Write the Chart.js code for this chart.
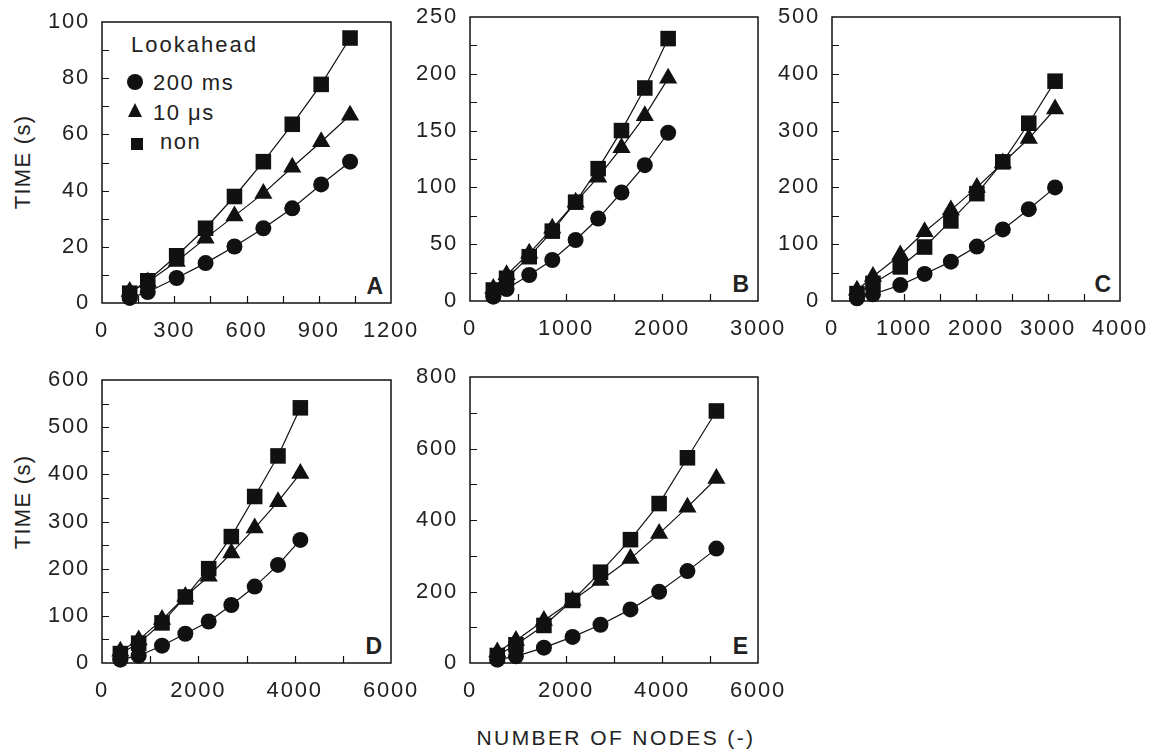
<!DOCTYPE html>
<html><head><meta charset="utf-8">
<script src="https://cdn.jsdelivr.net/npm/chart.js@4"></script>
<style>
body{margin:0;width:1150px;height:751px;background:#fff;position:relative;overflow:hidden;font-family:"Liberation Sans",Arial,sans-serif;color:#222}
.cv{position:absolute}
.txt{position:absolute;white-space:nowrap;font-size:22px;letter-spacing:1.5px;line-height:1}
.lab{position:absolute;font-weight:bold;font-size:23px;line-height:1;white-space:nowrap}
.mk{position:absolute}
</style></head><body>

<div class="txt" style="left:23px;top:162px;transform:translate(-50%,-50%) rotate(-90deg);letter-spacing:1.3px">TIME (s)</div>
<div class="txt" style="left:23px;top:502px;transform:translate(-50%,-50%) rotate(-90deg);letter-spacing:1.3px">TIME (s)</div>
<div class="txt" style="left:616px;top:727px;transform:translateX(-50%);font-size:21px;letter-spacing:2.4px">NUMBER OF NODES (-)</div>

<div class="txt" style="left:131px;top:34px;letter-spacing:2px">Lookahead</div>
<div class="mk" style="left:127px;top:74px;width:16px;height:16px;border-radius:50%;background:#111"></div>
<div class="txt" style="left:153px;top:72px">200 ms</div>
<div class="mk" style="left:128px;top:103px;width:0;height:0;border-left:7.5px solid transparent;border-right:7.5px solid transparent;border-bottom:14px solid #111"></div>
<div class="txt" style="left:153px;top:102px">10 μs</div>
<div class="mk" style="left:131px;top:138px;width:12px;height:12px;background:#111"></div>
<div class="txt" style="left:160px;top:131px">non</div>

<div class="lab" style="right:767px;top:275px">A</div>
<div class="lab" style="right:401px;top:273px">B</div>
<div class="lab" style="right:39px;top:273px">C</div>
<div class="lab" style="right:768px;top:635px">D</div>
<div class="lab" style="right:402px;top:635px">E</div>

<script>
// ---- data ----
const nodesA = [115, 190, 310, 430, 550, 670, 790, 910, 1030];
const ms200A = [1.8, 3.9, 8.9, 14.2, 20.1, 26.6, 33.7, 42.2, 50.3];
const us10A  = [4.1, 7.5, 14.8, 23, 31, 39, 48.3, 57.4, 66.8];
const nonA   = [3.5, 7.9, 16.8, 26.6, 37.9, 50.3, 63.6, 77.8, 94.3];

const nodesB = [243, 381, 617, 857, 1100, 1335, 1578, 1821, 2064];
const ms200B = [3.8, 10.5, 22.9, 36.1, 53.7, 72.6, 95.5, 119.6, 148.1];
const us10B  = [11, 23, 42, 64, 87, 109, 135, 163, 196];
const nonB   = [9.7, 20, 39, 61.5, 87, 116.5, 150, 187.5, 231];

const nodesC = [347, 569, 948, 1286, 1651, 2012, 2372, 2733, 3098];
const ms200C = [4.7, 11.8, 28, 47.6, 69.3, 95.8, 126, 161.6, 200];
const us10C  = [19, 43, 81, 122, 160, 200, 243, 286, 338];
const nonC   = [13, 31, 60, 95, 141, 189, 245, 313, 387];

const nodesD = [381, 761, 1246, 1730, 2215, 2685, 3170, 3654, 4118];
const ms200D = [7, 15.5, 36.7, 62, 88, 123, 162, 208, 261];
const us10D  = [25, 49, 92, 141, 184, 233, 286, 342, 402];
const nonD   = [20, 42, 85, 140, 200, 268, 353, 439, 541];

const nodesE = [569, 957, 1540, 2137, 2719, 3343, 3940, 4530, 5133];
const ms200E = [9.3, 18.6, 43, 73, 107, 150, 199, 257, 320];
const us10E  = [31, 63, 119, 175, 231, 292, 362, 436, 516];
const nonE   = [21, 51, 105, 175, 254, 345, 446, 574, 705];

// axis limits / tick steps
const axisA = {xMax: 1200, xStep: 300, yMax: 100, yStep: 20};
const axisB = {xMax: 3000, xStep: 1000, yMax: 250, yStep: 50};
const axisC = {xMax: 4000, xStep: 1000, yMax: 500, yStep: 100};
const axisD = {xMax: 6000, xStep: 2000, yMax: 600, yStep: 100};
const axisE = {xMax: 6000, xStep: 2000, yMax: 800, yStep: 200};

const INK = '#111';
const FONT = "'Liberation Sans', Arial, sans-serif";

const frameTicks = {
  id: 'frameTicks',
  beforeDraw(chart) { try { chart.ctx.letterSpacing = '1.8px'; } catch (e) {} },
  beforeDatasetsDraw(chart, args, opts) {
    const {ctx, chartArea: a, scales: {x, y}} = chart;
    ctx.save();
    ctx.strokeStyle = INK;
    ctx.lineWidth = 1.5;
    ctx.strokeRect(a.left, a.top, a.right - a.left, a.bottom - a.top);
    ctx.lineWidth = 1.2;
    ctx.beginPath();
    for (let v = opts.yMinor; v < y.max - 1e-9; v += opts.yMinor) {
      const py = Math.round(y.getPixelForValue(v)) + 0.5;
      ctx.moveTo(a.left, py); ctx.lineTo(a.left + 7, py);
    }
    for (let v = opts.xMinor; v < x.max - 1e-9; v += opts.xMinor) {
      const px = Math.round(x.getPixelForValue(v)) + 0.5;
      ctx.moveTo(px, a.bottom); ctx.lineTo(px, a.bottom - 7);
    }
    ctx.stroke();
    ctx.restore();
  }
};

function pts(xs, ys) { return xs.map((v, i) => ({x: v, y: ys[i]})); }

function ds(label, xs, ys, style, r) {
  return {
    label, data: pts(xs, ys), showLine: true,
    borderColor: INK, borderWidth: 1.2, backgroundColor: INK,
    pointStyle: style, pointRadius: r, pointBorderWidth: 0,
    pointBackgroundColor: INK, pointBorderColor: INK, clip: false
  };
}

function makePanel(rect, axis, nodes, s1, s2, s3) {
  const [L, T, R, B] = rect;
  const padT = 30, padR = 50, padB = 10, yW = 100, xH = 44;
  const W = (R - L) + yW + padR, H = (B - T) + padT + xH + padB;
  const div = document.createElement('div');
  div.className = 'cv';
  div.style.left = (L - yW) + 'px'; div.style.top = (T - padT) + 'px';
  div.style.width = W + 'px'; div.style.height = H + 'px';
  const c = document.createElement('canvas');
  c.width = W; c.height = H; c.style.width = W + 'px'; c.style.height = H + 'px';
  div.appendChild(c); document.body.appendChild(div);
  const tickFont = {family: FONT, size: 22};
  new Chart(c, {
    type: 'scatter',
    data: {datasets: [
      ds('200 ms', nodes, s1, 'circle', 8),
      ds('10 μs', nodes, s2, 'triangle', 10.5),
      ds('non', nodes, s3, 'rect', 11)
    ]},
    options: {
      responsive: false, animation: false, devicePixelRatio: 1,
      layout: {padding: {left: 0, top: padT, right: padR, bottom: padB}},
      plugins: {legend: {display: false}, tooltip: {enabled: false},
        frameTicks: {xMinor: axis.xStep / 2, yMinor: axis.yStep / 2}},
      scales: {
        x: {type: 'linear', min: 0, max: axis.xMax,
          grid: {display: false, drawTicks: false}, border: {display: false},
          ticks: {stepSize: axis.xStep, padding: 15, color: '#222', font: tickFont,
            maxRotation: 0, autoSkip: false, callback: v => String(v)},
          afterFit(s) { s.height = xH; }},
        y: {type: 'linear', min: 0, max: axis.yMax,
          grid: {display: false, drawTicks: false}, border: {display: false},
          ticks: {stepSize: axis.yStep, padding: 12, color: '#222', font: tickFont,
            autoSkip: false, callback: v => String(v)},
          afterFit(s) { s.width = yW; }}
      }
    },
    plugins: [frameTicks]
  });
}

makePanel([102, 22, 391, 303], axisA, nodesA, ms200A, us10A, nonA);
makePanel([470, 17, 758, 301], axisB, nodesB, ms200B, us10B, nonB);
makePanel([832, 17, 1120, 301], axisC, nodesC, ms200C, us10C, nonC);
makePanel([102, 380, 391, 663], axisD, nodesD, ms200D, us10D, nonD);
makePanel([470, 377, 758, 663], axisE, nodesE, ms200E, us10E, nonE);
</script>
</body></html>
